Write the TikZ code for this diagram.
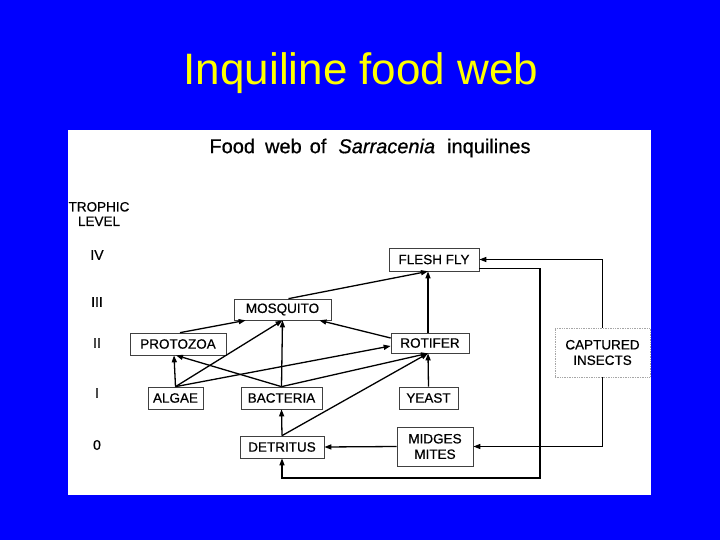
\documentclass[tikz,border=0pt]{standalone}
\usepackage{fontspec}
\setmainfont{Liberation Sans}
\newfontfamily\heavysans[FakeBold=0.6]{Liberation Sans}
\usetikzlibrary{arrows.meta,calc}
\begin{document}
\begin{tikzpicture}[x=1pt,y=-1pt,
  box/.style={draw=black!75,line width=0.7pt,fill=white,inner sep=0pt,font=\heavysans\fontsize{13.5}{15}\selectfont,align=center},
  edge/.style={line width=1.3pt,-{Triangle[length=7pt,width=5pt]}},
  lvl/.style={font=\heavysans\fontsize{14}{16}\selectfont}]
\useasboundingbox (0,0) rectangle (720,540);
\fill[fill={rgb,255:red,0;green,0;blue,255}] (0,0) rectangle (720,540);
\node[text={rgb,255:red,255;green,255;blue,0},font=\fontsize{44}{48}\selectfont] (title) at (361,73) {Inquiline food web};
\fill[white] (68,130) rectangle (651,495);
\node[font=\heavysans\fontsize{20}{24}\selectfont] (sub) at (370,148) {Food\hspace{10pt}web\hspace{8pt}of\hspace{12pt}\textit{Sarracenia}\hspace{12pt}inquilines};
\node[lvl,align=center,inner sep=0pt,font=\heavysans\fontsize{13.5}{14.5}\selectfont] (tl) at (99,214) {TROPHIC\\LEVEL};
\node[lvl] (l4) at (97,255) {IV};
\node[lvl] (l3) at (97,302) {III};
\node[lvl] (l2) at (97,343) {II};
\node[lvl] (l1) at (97,393) {I};
\node[lvl] (l0) at (97,445) {0};
% boxes
\node[box,minimum width=90pt,minimum height=23pt] (flesh) at (434,259.5) {FLESH FLY};
\node[box,minimum width=97pt,minimum height=21pt] (mosq) at (282.5,309.5) {MOSQUITO};
\node[box,minimum width=96pt,minimum height=22pt] (proto) at (178,344) {PROTOZOA};
\node[box,minimum width=78pt,minimum height=20pt] (rot) at (430,343) {ROTIFER};
\node[box,minimum width=55pt,minimum height=22pt] (algae) at (175.5,398) {ALGAE};
\node[box,minimum width=81pt,minimum height=22pt] (bact) at (281.5,398) {BACTERIA};
\node[box,minimum width=59pt,minimum height=22pt] (yeast) at (428.5,398) {YEAST};
\node[box,minimum width=84pt,minimum height=22pt] (detr) at (282,447) {DETRITUS};
\node[box,minimum width=76pt,minimum height=39pt,font=\heavysans\fontsize{13.5}{15.5}\selectfont] (midg) at (435,446.5) {MIDGES\\MITES};
\node[box,draw=black!35,densely dotted,line width=0.6pt,minimum width=95pt,minimum height=49pt,font=\heavysans\fontsize{13.5}{15.5}\selectfont] (capt) at (602.5,352.5) {CAPTURED\\INSECTS};
% connectors
\coordinate (ffin) at ($(flesh.south)+(-6,0)$);
\coordinate (mqin) at (mosq.south);
\coordinate (rtin) at ($(rot.south)+(-2,0)$);
\draw[edge] ($(mosq.north)+(6,0)$) -- (ffin);
\draw[edge] ($(rot.north)+(-2,0)$) -- (ffin);
\draw[edge] ($(proto.north)+(2,0)$) -- ($(mosq.south west)+(12,0)$);
\draw[edge] (algae.north) -- (mqin);
\draw[edge] (bact.north) -- (mqin);
\draw[edge] ($(rot.west)+(0,-5)$) -- ($(mosq.south east)+(-12,0)$);
\draw[edge] (algae.north) -- ($(proto.south)+(-4,0)$);
\draw[edge] (bact.north) -- ($(proto.south)+(-2,0)$);
\draw[edge] (algae.north) -- ($(rot.west)+(0,3)$);
\draw[edge] (bact.north) -- (rtin);
\draw[edge] (detr.north) -- (rtin);
\draw[edge] (yeast.north) -- (rtin);
\draw[edge] (detr.north) -- (bact.south);
\draw[edge] (capt.north) |- (flesh.east);
\draw[edge] (capt.south) |- (midg.east);
\coordinate (c1) at (540,478);
\draw[edge] ($(flesh.east)+(0,9)$) -| (c1) -| (detr.south);
\draw[edge] (midg.west) -- (detr.east);
\end{tikzpicture}
\end{document}
